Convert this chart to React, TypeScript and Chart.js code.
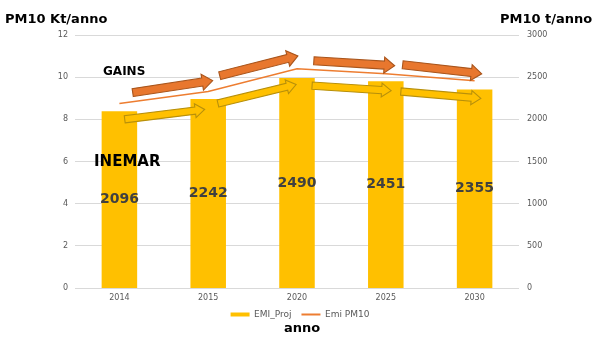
import React, { useEffect, useRef } from "react";
import { Chart, registerables } from "chart.js";

Chart.register(...registerables);

const categories = ["2014", "2015", "2020", "2025", "2030"];
const emiProj = [2096, 2242, 2490, 2451, 2355]; // t/anno (right axis)
const emiPM10 = [8.75, 9.32, 10.4, 10.16, 9.83]; // Kt/anno (left axis)
const leftTicks = [0, 2, 4, 6, 8, 10, 12];
const rightTicks = [0, 500, 1000, 1500, 2000, 2500, 3000];

// block arrows: [startIndex, startValue(Kt), tipIndex, tipValue(Kt)]
const orangeArrows = [
  [0.15, 9.27, 1.05, 9.84],
  [1.13, 10.07, 2.01, 11.01],
  [2.19, 10.78, 3.1, 10.54],
  [3.19, 10.59, 4.08, 10.16],
];
const yellowArrows = [
  [0.06, 8.0, 0.96, 8.47],
  [1.11, 8.75, 1.99, 9.65],
  [2.17, 9.6, 3.06, 9.36],
  [3.17, 9.32, 4.07, 8.99],
];

const FONT = "'DejaVu Sans', Verdana, sans-serif";

function drawArrow(ctx: CanvasRenderingContext2D, sx: number, sy: number, tx: number, ty: number, bw: number, hw: number, hl: number, fill: string, stroke: string) {
  const dx = tx - sx, dy = ty - sy;
  const len = Math.hypot(dx, dy);
  const ux = dx / len, uy = dy / len;
  const nx = -uy, ny = ux;
  const bx = tx - ux * hl, by = ty - uy * hl;
  ctx.beginPath();
  ctx.moveTo(sx + nx * bw, sy + ny * bw);
  ctx.lineTo(bx + nx * bw, by + ny * bw);
  ctx.lineTo(bx + nx * hw, by + ny * hw);
  ctx.lineTo(tx, ty);
  ctx.lineTo(bx - nx * hw, by - ny * hw);
  ctx.lineTo(bx - nx * bw, by - ny * bw);
  ctx.lineTo(sx - nx * bw, sy - ny * bw);
  ctx.closePath();
  ctx.fillStyle = fill;
  ctx.fill();
  ctx.lineWidth = 1.1;
  ctx.strokeStyle = stroke;
  ctx.stroke();
}

const overlayPlugin = {
  id: "overlay",
  afterDatasetsDraw(chart: any) {
    const ctx: CanvasRenderingContext2D = chart.ctx;
    const xs = chart.scales.x;
    const ys = chart.scales.y;
    ctx.save();
    // bar value labels
    const meta = chart.getDatasetMeta(0);
    ctx.font = `bold 14px ${FONT}`;
    ctx.fillStyle = "#404040";
    ctx.textAlign = "center";
    ctx.textBaseline = "middle";
    meta.data.forEach((bar: any, i: number) => {
      const mid = (bar.y + bar.base) / 2;
      ctx.fillText(String(emiProj[i]), bar.x, mid);
    });
    // arrows
    orangeArrows.forEach((a) => {
      drawArrow(ctx, xs.getPixelForValue(a[0]), ys.getPixelForValue(a[1]), xs.getPixelForValue(a[2]), ys.getPixelForValue(a[3]), 4, 8, 10.5, "#E8772E", "#A9551C");
    });
    yellowArrows.forEach((a) => {
      drawArrow(ctx, xs.getPixelForValue(a[0]), ys.getPixelForValue(a[1]), xs.getPixelForValue(a[2]), ys.getPixelForValue(a[3]), 3.6, 7, 9.5, "#FFC000", "#B8900A");
    });
    // texts
    ctx.fillStyle = "#000000";
    ctx.textBaseline = "alphabetic";
    ctx.textAlign = "left";
    ctx.font = `bold 13px ${FONT}`;
    ctx.fillText("PM10 Kt/anno", 5, 23);
    ctx.fillText("PM10 t/anno", 500, 23);
    ctx.font = `bold 12px ${FONT}`;
    ctx.fillText("GAINS", 103, 74.5);
    ctx.font = `bold 15px ${FONT}`;
    ctx.fillText("INEMAR", 94, 165.5);
    ctx.font = `bold 13px ${FONT}`;
    ctx.textAlign = "center";
    ctx.fillText("anno", 302, 331.5);
    ctx.restore();
  },
};

export default function App() {
  const ref = useRef<HTMLCanvasElement>(null);
  useEffect(() => {
    const canvas = ref.current!;
    const chart = new Chart(canvas, {
      type: "bar",
      data: {
        labels: categories,
        datasets: [
          {
            type: "bar",
            label: "EMI_Proj",
            data: emiProj,
            backgroundColor: "#FFC000",
            borderWidth: 0,
            yAxisID: "y1",
            barPercentage: 0.8,
            categoryPercentage: 0.5,
            order: 2,
          },
          {
            type: "line",
            label: "Emi PM10",
            data: emiPM10,
            borderColor: "#ED7D31",
            backgroundColor: "#ED7D31",
            borderWidth: 1.6,
            pointRadius: 0,
            tension: 0,
            yAxisID: "y",
            order: 1,
          },
        ],
      } as any,
      options: {
        responsive: false,
        animation: false,
        layout: { padding: { top: 35, left: 0, right: 0, bottom: 14 } },
        scales: {
          x: {
            grid: { display: false, drawTicks: false },
            border: { display: false },
            ticks: { color: "#595959", font: { family: FONT, size: 8 }, padding: 5 },
            afterFit: (s: any) => { s.height = 12; },
          },
          y: {
            position: "left",
            min: 0,
            max: 12,
            afterBuildTicks: (s: any) => { s.ticks = leftTicks.map((v) => ({ value: v })); },
            grid: { color: "#D9D9D9", drawTicks: false, lineWidth: 1 },
            border: { display: false },
            ticks: { color: "#595959", font: { family: FONT, size: 8 }, padding: 7, callback: (v: any) => String(v) },
            afterFit: (s: any) => { s.width = 75; },
          },
          y1: {
            position: "right",
            min: 0,
            max: 3000,
            afterBuildTicks: (s: any) => { s.ticks = rightTicks.map((v) => ({ value: v })); },
            grid: { display: false, drawTicks: false },
            border: { display: false },
            ticks: { color: "#595959", font: { family: FONT, size: 8 }, padding: 8, callback: (v: any) => String(v) },
            afterFit: (s: any) => { s.width = 81; },
          },
        },
        plugins: {
          tooltip: { enabled: false },
          legend: {
            position: "bottom",
            labels: {
              color: "#595959",
              font: { family: FONT, size: 9 },
              usePointStyle: true,
              pointStyleWidth: 19,
              padding: 10,
              generateLabels: (chart: any) =>
                chart.data.datasets.map((ds: any, i: number) => ({
                  text: ds.label,
                  fillStyle: i === 0 ? "#FFC000" : "#ED7D31",
                  strokeStyle: i === 0 ? "#FFC000" : "#ED7D31",
                  lineWidth: i === 0 ? 4 : 2,
                  pointStyle: "line",
                  hidden: false,
                  datasetIndex: i,
                  fontColor: "#595959",
                })),
            },
          },
        },
      } as any,
      plugins: [overlayPlugin],
    });
    return () => chart.destroy();
  }, []);
  return (
    <div style={{ position: "fixed", left: 0, top: 0, width: 600, height: 343, background: "#fff" }}>
      <canvas ref={ref} width={600} height={343} style={{ display: "block" }} />
    </div>
  );
}
